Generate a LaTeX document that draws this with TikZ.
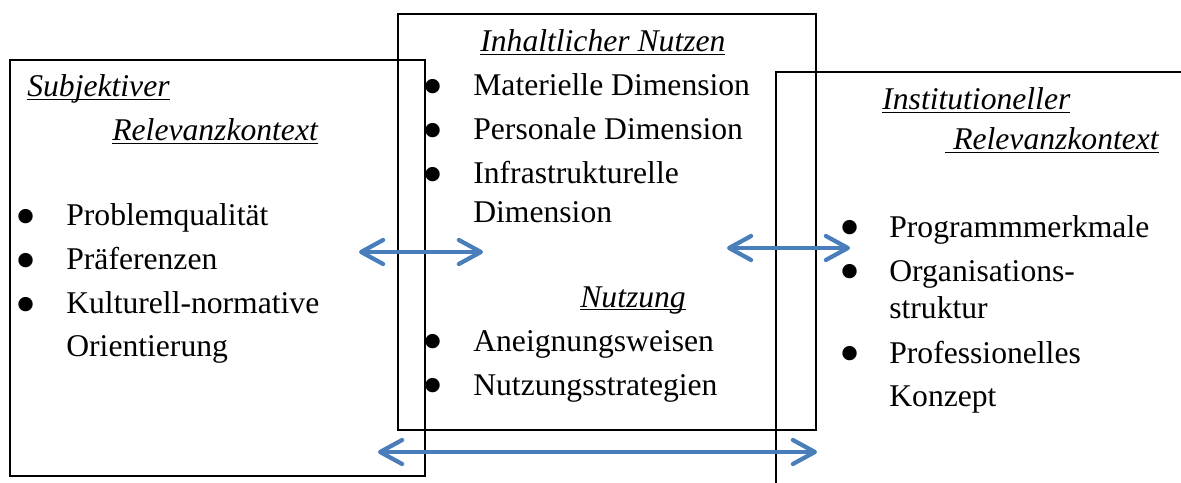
\documentclass[tikz,border=0pt]{standalone}
\usepackage{graphicx}
\usepackage{fontspec}
\setmainfont{Liberation Serif}
\usetikzlibrary{arrows.meta}

\definecolor{linkblue}{RGB}{74,126,187}

% underlined heading with the rule set just below the baseline
\newcommand{\headul}[1]{\setbox0\hbox{#1}\rlap{\rule[-1.9pt]{\wd0}{1pt}}\box0}

\begin{document}
\begin{tikzpicture}[
    x=0.02cm, y=-0.02cm,
    >={Straight Barb[length=4.4mm,width=4.8mm,round]},
    box/.style={
        draw=black, line width=0.04cm,
    },
    itemtext/.style={
        anchor=base west, inner sep=0pt,
        font=\fontsize{18}{22}\selectfont,
    },
    headtext/.style={
        itemtext, font=\fontsize{18}{22}\selectfont\itshape,
    },
    dot/.style={
        itemtext, yshift=-0.22cm,
    },
    link/.style={
        <->, draw=linkblue, line width=0.085cm,
    },
]

\useasboundingbox (0,0) rectangle (1181,483);
\clip (0,0) rectangle (1181,483);

% ── Boxes ───────────────────────────────────────────────────
\draw[box] (10,60) rectangle (425,476);
\draw[box] (398,14) rectangle (816,430);
\draw[box] (776,72) rectangle (1200,520);

% ── Subjektiver Relevanzkontext ─────────────────────────────
\node[headtext] (subjA) at (27,97) {\headul{Subjektiver}};
\node[headtext] (subjB) at (112,141) {\headul{Relevanzkontext}};
\foreach \txt/\y [count=\i] in {Problemqualität/226, Präferenzen/270, Kulturell-normative/314} {
    \node[dot] (subjdot\i) at (15,\y) {\scalebox{1.9}{\textbullet}};
    \node[itemtext] (subjitem\i) at (66,\y) {\txt};
}
\node[itemtext] (subjitem4) at (66,357) {Orientierung};

% ── Inhaltlicher Nutzen / Nutzung ───────────────────────────
\node[headtext] (inhalt) at (480,52) {\headul{Inhaltlicher Nutzen}};
\foreach \txt/\y [count=\i] in {Materielle Dimension/96, Personale Dimension/140, Infrastrukturelle/184} {
    \node[dot] (inhaltdot\i) at (422,\y) {\scalebox{1.9}{\textbullet}};
    \node[itemtext] (inhaltitem\i) at (473,\y) {\txt};
}
\node[itemtext] (inhaltitem4) at (473,222) {Dimension};

\node[headtext] (nutzung) at (580,307) {\headul{Nutzung}};
\foreach \txt/\y [count=\i] in {Aneignungsweisen/351, Nutzungsstrategien/395} {
    \node[dot] (nutzdot\i) at (422,\y) {\scalebox{1.9}{\textbullet}};
    \node[itemtext] (nutzitem\i) at (473,\y) {\txt};
}

% ── Institutioneller Relevanzkontext ────────────────────────
\node[headtext] (instA) at (882,110) {\headul{Institutioneller}};
\node[headtext] (instB) at (945,150) {\headul{\ Relevanzkontext}};
\foreach \txt/\y [count=\i] in {Programmmerkmale/237, Organisations-/281, Professionelles/363} {
    \node[dot] (instdot\i) at (839,\y) {\scalebox{1.9}{\textbullet}};
    \node[itemtext] (institem\i) at (889,\y) {\txt};
}
\node[itemtext] (institem4) at (889,318) {struktur};
\node[itemtext] (institem5) at (889,406) {Konzept};

% ── Double arrows ───────────────────────────────────────────
\coordinate (subjlink) at (359,252);
\coordinate (inhaltlinkL) at (483,252);
\coordinate (inhaltlinkR) at (727,248);
\coordinate (instlink) at (850,248);
\coordinate (bottomL) at (378,452);
\coordinate (bottomR) at (817,452);

\draw[link] (subjlink) -- (inhaltlinkL);
\draw[link] (inhaltlinkR) -- (instlink);
\draw[link] (bottomL) -- (bottomR);

\end{tikzpicture}
\end{document}
